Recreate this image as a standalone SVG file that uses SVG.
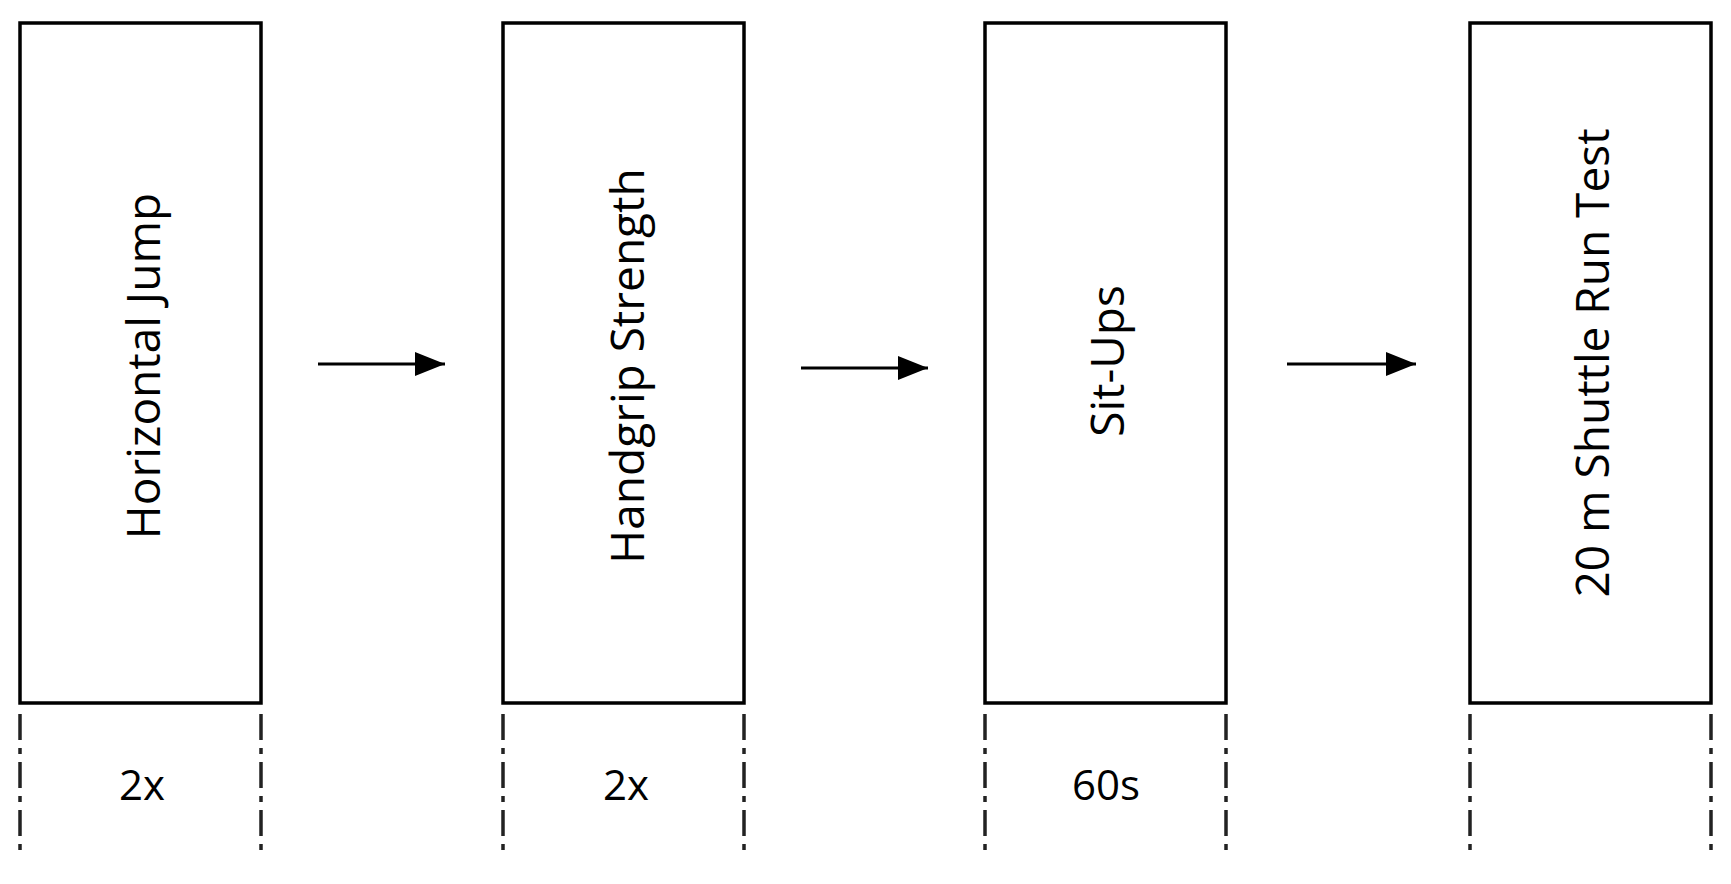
<svg xmlns="http://www.w3.org/2000/svg" width="1731" height="884" viewBox="0 0 1731 884">
<style>
.box{fill:#fff;stroke:#000;stroke-width:3.5}
.dd{stroke:#222;stroke-width:3.5;stroke-dasharray:26 8 6 8}
.t{font-family:"Open Sans",sans-serif;font-size:38px;fill:#000;text-anchor:middle;dominant-baseline:central}
.r{font-size:46px}
.b{font-size:42px}
.c{stroke:#000;stroke-width:3;fill:none}
</style>
<defs><marker id="ah" viewBox="0 0 30 24" refX="30" refY="12" markerWidth="30" markerHeight="24" markerUnits="userSpaceOnUse" orient="auto"><path d="M0,0L30,12L0,24z" fill="#000"/></marker></defs>
<rect width="1731" height="884" fill="#fff"/>
<g id="n1"><rect class="box" x="20" y="23" width="241" height="680"/><text class="t r" transform="translate(142,366) rotate(-90)">Horizontal Jump</text>
<line class="dd" x1="20" y1="714" x2="20" y2="856"/><line class="dd" x1="261" y1="714" x2="261" y2="856"/><text class="t b" x="142" y="783">2x</text></g>
<g id="n2"><rect class="box" x="503" y="23" width="241" height="680"/><text class="t r" transform="translate(626,366) rotate(-90)">Handgrip Strength</text>
<line class="dd" x1="503" y1="714" x2="503" y2="856"/><line class="dd" x1="744" y1="714" x2="744" y2="856"/><text class="t b" x="626" y="783">2x</text></g>
<g id="n3"><rect class="box" x="985" y="23" width="241" height="680"/><text class="t r" transform="translate(1106,361) rotate(-90)">Sit-Ups</text>
<line class="dd" x1="985" y1="714" x2="985" y2="856"/><line class="dd" x1="1226" y1="714" x2="1226" y2="856"/><text class="t b" x="1106" y="783">60s</text></g>
<g id="n4"><rect class="box" x="1470" y="23" width="241" height="680"/><text class="t r" transform="translate(1591,363) rotate(-90)">20 m Shuttle Run Test</text>
<line class="dd" x1="1470" y1="714" x2="1470" y2="856"/><line class="dd" x1="1711" y1="714" x2="1711" y2="856"/></g>
<g id="connectors">
<line class="c" x1="318" y1="364" x2="445" y2="364" marker-end="url(#ah)"/>
<line class="c" x1="801" y1="368" x2="928" y2="368" marker-end="url(#ah)"/>
<line class="c" x1="1287" y1="364" x2="1416" y2="364" marker-end="url(#ah)"/>
</g>
</svg>
